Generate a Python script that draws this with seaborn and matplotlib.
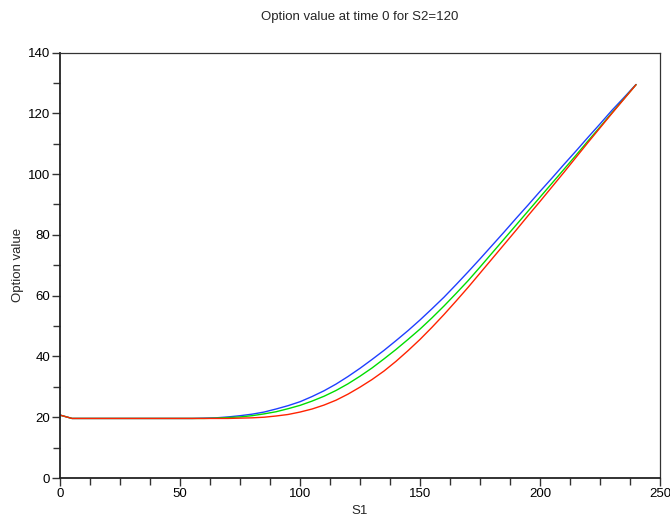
import numpy as np
import pandas as pd
import matplotlib
matplotlib.use("Agg")
import matplotlib.pyplot as plt
from matplotlib.ticker import MultipleLocator
import seaborn as sns

# ---- data ----
s1 = [0, 5, 10, 15, 20, 25, 30, 35, 40, 45, 50, 55,
      60, 65, 70, 75, 80, 85, 90, 95, 100, 105, 110, 115, 120, 125, 130,
      135, 140, 145, 150, 155, 160, 165, 170, 175, 180, 185, 190, 195, 200,
      205, 210, 215, 220, 225, 230, 235, 240]
blue_vals = [20.7, 19.6, 19.6, 19.6, 19.6, 19.6, 19.6, 19.6, 19.6, 19.6, 19.6, 19.6,
             19.7, 19.8, 20.1, 20.5, 21.0, 21.7, 22.7, 23.8, 25.1, 26.8, 28.7,
             30.9, 33.4, 36.1, 39.0, 42.0, 45.2, 48.5, 52.0, 55.7, 59.5, 63.6,
             67.8, 72.1, 76.5, 80.9, 85.4, 89.8, 94.3, 98.7, 103.2, 107.6,
             112.1, 116.5, 121.0, 125.2, 129.5]
green_vals = [20.7, 19.6, 19.6, 19.6, 19.6, 19.6, 19.6, 19.6, 19.6, 19.6, 19.6, 19.6,
              19.6, 19.7, 19.9, 20.1, 20.5, 21.1, 21.8, 22.8, 23.9, 25.3, 26.9,
              28.8, 31.0, 33.5, 36.2, 39.2, 42.3, 45.6, 49.0, 52.7, 56.6, 60.7,
              64.9, 69.4, 74.0, 78.6, 83.2, 87.8, 92.4, 97.0, 101.6, 106.2,
              110.9, 115.5, 120.2, 124.8, 129.4]
red_vals = [20.7, 19.6, 19.6, 19.6, 19.6, 19.6, 19.6, 19.6, 19.6, 19.6, 19.6, 19.6,
            19.6, 19.6, 19.6, 19.7, 19.8, 20.0, 20.4, 20.9, 21.7, 22.7, 24.0,
            25.6, 27.6, 29.9, 32.4, 35.2, 38.4, 41.9, 45.6, 49.6, 53.8, 58.2,
            62.7, 67.4, 72.1, 76.8, 81.5, 86.3, 91.0, 95.8, 100.6, 105.5,
            110.4, 115.2, 120.0, 124.7, 129.4]
series_names = ["blue", "green", "red"]
series_colors = ["#1f3fff", "#00dd00", "#ff2200"]

title_text = "Option value at time 0 for S2=120"
xlabel_text = "S1"
ylabel_text = "Option value"

df = pd.DataFrame({
    "S1": s1 * 3,
    "value": blue_vals + green_vals + red_vals,
    "series": [series_names[0]] * len(s1) + [series_names[1]] * len(s1)
              + [series_names[2]] * len(s1),
})

sns.set_theme(style="white")
plt.rcParams["font.family"] = ["Liberation Sans", "DejaVu Sans"]

fig = plt.figure(figsize=(6.7, 5.25), dpi=100)
ax = fig.add_axes([0.0896, 0.0895, 0.8955, 0.8105])

sns.lineplot(data=df, x="S1", y="value", hue="series",
             palette=dict(zip(series_names, series_colors)),
             linewidth=1.0, legend=False, ax=ax, sort=False)

ax.set_xlim(0, 250)
ax.set_ylim(0, 140)
ax.xaxis.set_major_locator(MultipleLocator(50))
ax.xaxis.set_minor_locator(MultipleLocator(12.5))
ax.yaxis.set_major_locator(MultipleLocator(20))
ax.yaxis.set_minor_locator(MultipleLocator(10))
ax.tick_params(axis="both", which="major", direction="out", length=6,
               width=1, color="#333333", labelsize=9.5, pad=1,
               left=True, bottom=True, labelcolor="black")
ax.tick_params(axis="both", which="minor", direction="out", length=5,
               width=1, color="#333333", left=True, bottom=True)

for side in ["left", "bottom"]:
    ax.spines[side].set_color("#222222")
    ax.spines[side].set_linewidth(1.3)
for side in ["top", "right"]:
    ax.spines[side].set_color("#333333")
    ax.spines[side].set_linewidth(0.9)

ax.set_xlabel(xlabel_text, fontsize=9.5, labelpad=4)
ax.set_ylabel(ylabel_text, fontsize=9.5, labelpad=3)
fig.text(0.537, 0.967, title_text, ha="center", va="center", fontsize=9.5)

fig.savefig("out.png", dpi=100, facecolor="white")
